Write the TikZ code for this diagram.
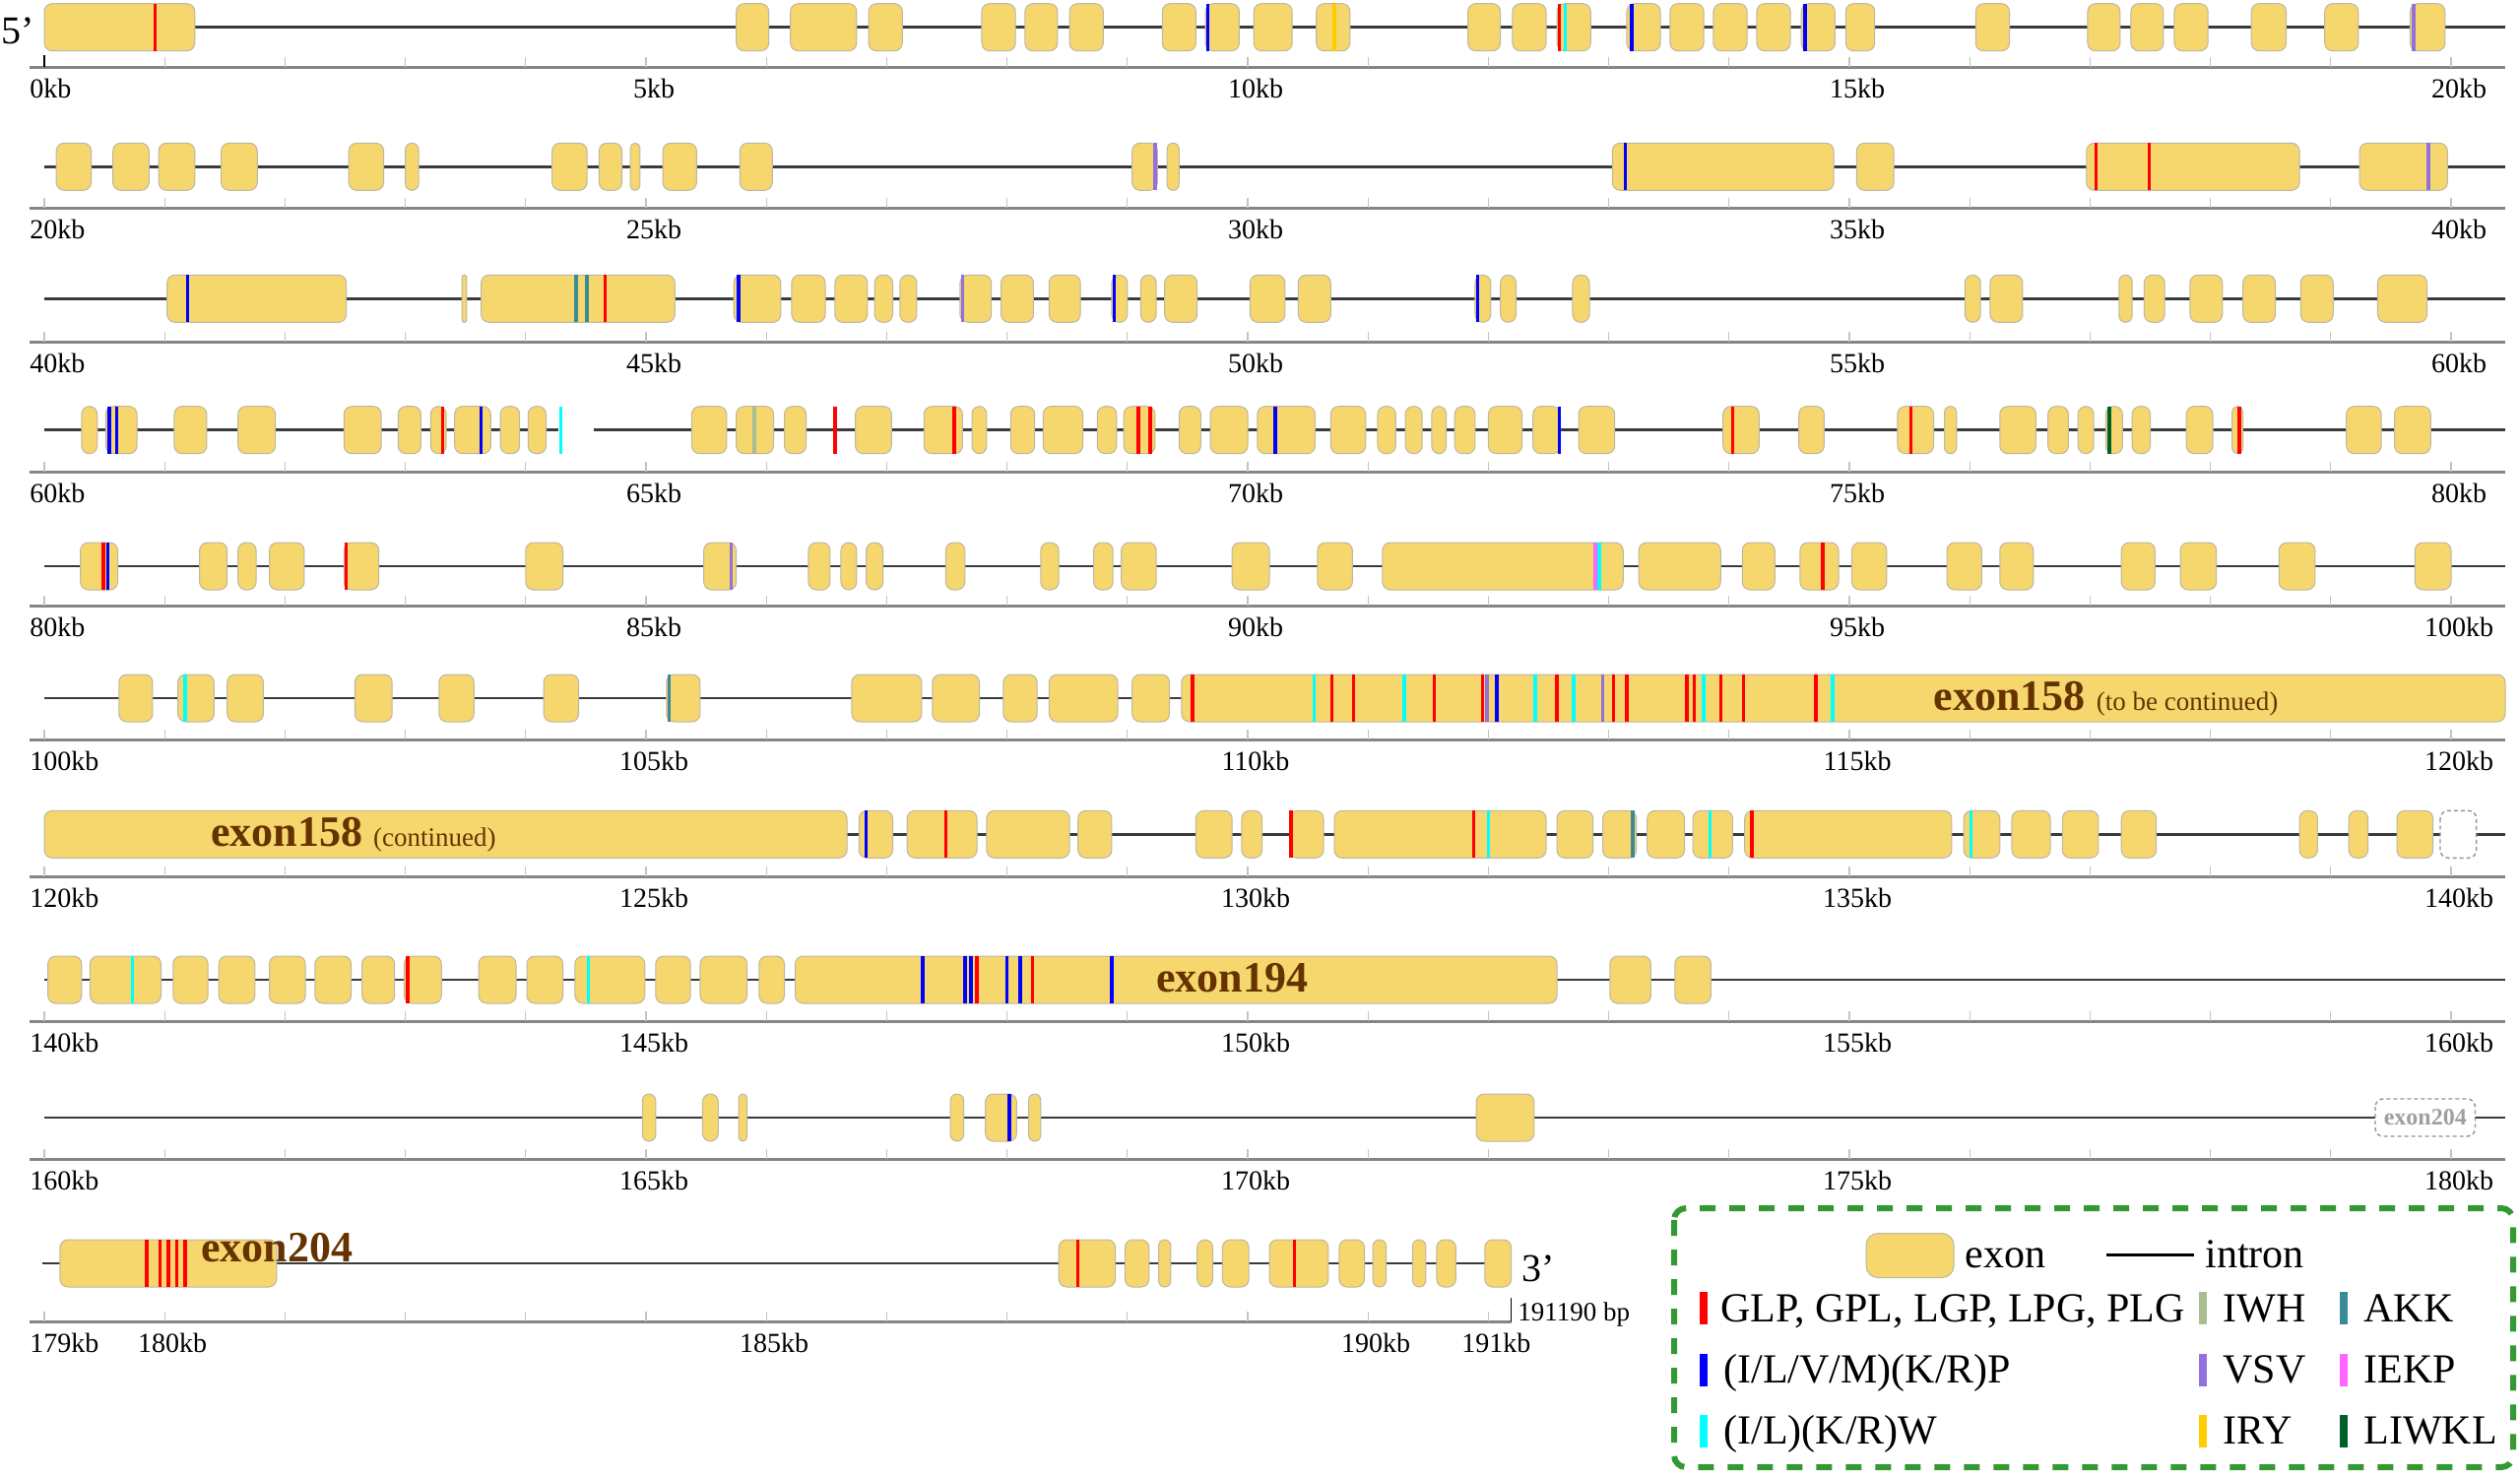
\documentclass[tikz,border=0pt]{standalone}
\usepackage{fontspec}
\setmainfont{Liberation Serif}
\definecolor{exonfill}{HTML}{F5D76E}
\definecolor{exonedge}{HTML}{BDB6A6}
\definecolor{introncol}{HTML}{3A3A3A}
\definecolor{axiscol}{HTML}{858585}
\definecolor{tickcol}{HTML}{C4C4C4}
\definecolor{exonlab}{HTML}{663300}
\definecolor{legcol}{HTML}{339933}
\definecolor{cGLP}{HTML}{FF0000}
\definecolor{cKRP}{HTML}{0000FF}
\definecolor{cKRW}{HTML}{00FFFF}
\definecolor{cIWH}{HTML}{A8BE90}
\definecolor{cAKK}{HTML}{3B8B97}
\definecolor{cVSV}{HTML}{9370DB}
\definecolor{cIEKP}{HTML}{FF66FF}
\definecolor{cIRY}{HTML}{FFCC00}
\definecolor{cLIWKL}{HTML}{00602B}
% exons of one row: #1 = y of the row, #2 = start/end in kb
\newcommand\exons[2]{\foreach \a/\b in {#2}{%
  \pgfmathsetmacro\rr{min(4,30.5*(\b-\a))}%
  \draw[exonbox,rounded corners=\rr pt] ({X(\a)},#1-24) rectangle ({X(\b)},#1+24);}}
\newcommand\motifs[2]{\foreach \m/\c in {#2}
  \draw[motif,\c] ({X(\m)},#1-24) -- ({X(\m)},#1+24);}
% scale bar: #1 = y, #2 = first kb, #3 = name
\newcommand\axisrow[3]{%
  \draw[axisline] ({X(-0.12)},#1) -- ({X(20.45)},#1);
  \foreach \t in {0,...,20} \draw[tickline] ({X(\t)},#1) -- ++(0,-10);
  \node[kblabel,anchor=north west] (#3l0) at (30,#1+12) {#2kb};
  \foreach \t in {5,10,15,20}{\pgfmathtruncatemacro\v{#2+\t}
    \node[kblabel] (#3l\t) at ({X(\t)+8},#1+12) {\v kb};}}
\begin{document}
\begin{tikzpicture}[x=0.5pt,y=-0.5pt,
  declare function={X(\k)=45+122.2*\k;},
  exonbox/.style={fill=exonfill,draw=exonedge,line width=0.5pt},
  gapbox/.style={draw=gray!85,fill=white,dash pattern=on 2pt off 1.5pt,line width=0.7pt,rounded corners=4pt},
  intron/.style={draw=introncol,line width=1.3pt},
  motif/.style={line width=1.7pt},
  axisline/.style={draw=axiscol,line width=1.5pt},
  tickline/.style={draw=tickcol,line width=0.6pt},
  kblabel/.style={font=\fontsize{14}{16}\selectfont,anchor=north,inner sep=0pt},
  exlabel/.style={font=\bfseries\fontsize{22}{26}\selectfont,text=exonlab,inner sep=0pt},
  legtext/.style={font=\fontsize{21}{25}\selectfont,anchor=base west,inner sep=0pt},
  legbar/.style={line width=4.2pt}]
\useasboundingbox[fill=white] (0,0) rectangle (2559,1499);

% 0 - 20 kb
\node[font=\fontsize{20}{24}\selectfont,inner sep=0pt] (five) at (18,31) {5’};
\draw[intron] ({X(0)},27.7) -- ({X(20.45)},27.7);
\exons{27.7}{0/1.25, 5.75/6.02, 6.2/6.75, 6.85/7.13, 7.79/8.07, 8.15/8.42, 8.52/8.8, 9.29/9.57, 9.65/9.93, 10.05/10.37, 10.57/10.85, 11.83/12.1, 12.2/12.48, 12.57/12.85, 13.15/13.43, 13.51/13.79, 13.87/14.15, 14.23/14.51, 14.6/14.88, 14.97/15.21, 16.05/16.33, 16.98/17.25, 17.34/17.61, 17.7/17.98, 18.34/18.63, 18.95/19.23, 19.66/19.95}
\motifs{27.7}{0.92/cGLP, 9.67/cKRP, 10.72/cIRY, 12.59/cGLP, 12.64/cKRW, 13.19/cKRP, 14.63/cKRP, 19.69/cVSV}
\axisrow{68}{0}{r1}
\draw[black,line width=1.2pt] ({X(0)},68) -- ++(0,-12);

% 20 - 40 kb
\draw[intron] ({X(0)},169.3) -- ({X(20.45)},169.3);
\exons{169.3}{0.1/0.39, 0.57/0.87, 0.95/1.25, 1.47/1.77, 2.53/2.82, 3.0/3.11, 4.22/4.51, 4.61/4.8, 4.87/4.95, 5.14/5.42, 5.78/6.05, 9.04/9.25, 9.33/9.43, 13.03/14.87, 15.06/15.37, 16.97/18.74, 19.24/19.97}
\motifs{169.3}{9.23/cVSV, 13.14/cKRP, 17.05/cGLP, 17.49/cGLP, 19.81/cVSV}
\axisrow{211}{20}{r2}

% 40 - 60 kb
\draw[intron] ({X(0)},303.3) -- ({X(20.45)},303.3);
\exons{303.3}{1.02/2.51, 3.47/3.51, 3.63/5.24, 5.73/6.12, 6.21/6.49, 6.57/6.84, 6.9/7.05, 7.11/7.25, 7.61/7.87, 7.95/8.22, 8.35/8.61, 8.87/9.0, 9.11/9.24, 9.31/9.58, 10.02/10.31, 10.42/10.69, 11.89/12.02, 12.1/12.23, 12.7/12.84, 15.96/16.09, 16.17/16.44, 17.24/17.35, 17.45/17.62, 17.83/18.1, 18.27/18.54, 18.75/19.02, 19.39/19.8}
\motifs{303.3}{1.19/cKRP, 4.42/cAKK, 4.51/cAKK, 4.66/cGLP, 5.77/cKRP, 7.63/cVSV, 8.89/cKRP, 11.91/cKRP}
\axisrow{347}{40}{r3}

% 60 - 80 kb
\draw[intron] ({X(0)},436.7) -- ({X(4.27)},436.7);
\draw[intron] ({X(4.57)},436.7) -- ({X(20.45)},436.7);
\exons{436.7}{0.31/0.44, 0.51/0.77, 1.08/1.35, 1.61/1.92, 2.49/2.8, 2.94/3.13, 3.21/3.34, 3.41/3.71, 3.79/3.95, 4.02/4.17, 5.38/5.67, 5.75/6.06, 6.15/6.33, 6.74/7.04, 7.31/7.63, 7.71/7.83, 8.03/8.23, 8.3/8.63, 8.75/8.91, 8.97/9.23, 9.43/9.61, 9.69/10.0, 10.08/10.56, 10.69/10.98, 11.08/11.23, 11.31/11.45, 11.53/11.65, 11.72/11.89, 12.0/12.28, 12.37/12.6, 12.75/13.05, 13.95/14.25, 14.58/14.79, 15.4/15.7, 15.79/15.89, 16.25/16.55, 16.65/16.82, 16.9/17.03, 17.13/17.27, 17.35/17.5, 17.8/18.02, 18.18/18.27, 19.13/19.42, 19.53/19.83}
\motifs{436.7}{0.54/cKRP, 0.6/cKRP, 3.31/cGLP, 3.63/cKRP, 4.29/cKRW, 5.9/cIWH, 6.57/cGLP, 7.56/cGLP, 9.09/cGLP, 9.19/cGLP, 10.23/cKRP, 12.59/cKRP, 14.03/cGLP, 15.51/cGLP, 17.16/cLIWKL, 18.24/cGLP}
\axisrow{479}{60}{r4}

% 80 - 100 kb
\draw[intron] ({X(0)},575) -- ({X(20.45)},575);
\exons{575}{0.3/0.61, 1.29/1.52, 1.61/1.76, 1.87/2.16, 2.49/2.78, 4.0/4.31, 5.48/5.75, 6.35/6.53, 6.62/6.75, 6.83/6.97, 7.49/7.65, 8.28/8.43, 8.72/8.88, 8.95/9.24, 9.87/10.18, 10.58/10.87, 11.12/13.12, 13.25/13.93, 14.11/14.38, 14.59/14.91, 15.02/15.31, 15.81/16.1, 16.25/16.53, 17.26/17.54, 17.75/18.05, 18.57/18.87, 19.7/20.0}
\motifs{575}{0.49/cGLP, 0.53/cKRP, 2.51/cGLP, 5.71/cVSV, 12.89/cIEKP, 12.92/cKRW, 14.78/cGLP}
\axisrow{615}{80}{r5}

% 100 - 120 kb
\draw[intron] ({X(0)},709) -- ({X(20.45)},709);
\exons{709}{0.62/0.9, 1.11/1.41, 1.52/1.82, 2.58/2.89, 3.28/3.57, 4.15/4.44, 5.17/5.45, 6.71/7.29, 7.38/7.77, 7.97/8.25, 8.35/8.92, 9.04/9.35, 9.45/20.45}
\motifs{709}{1.17/cKRW, 5.19/cAKK, 9.54/cGLP, 10.55/cKRW, 10.7/cGLP, 10.88/cGLP, 11.3/cKRW, 11.55/cGLP, 11.95/cGLP, 11.99/cVSV, 12.07/cKRP, 12.39/cKRW, 12.57/cGLP, 12.71/cKRW, 12.95/cVSV, 13.04/cGLP, 13.15/cGLP, 13.65/cGLP, 13.71/cGLP, 13.79/cKRW, 13.93/cGLP, 14.12/cGLP, 14.72/cGLP, 14.86/cKRW}
\node[exlabel,anchor=base west] (ex158a) at ({X(15.7)},721) {exon158 {\mdseries\fontsize{13.5}{16}\selectfont(to be continued)}};
\axisrow{751}{100}{r6}

% 120 - 140 kb
\draw[intron] ({X(0)},847.3) -- ({X(20.45)},847.3);
\exons{847.3}{0/6.67, 6.77/7.05, 7.17/7.75, 7.83/8.52, 8.59/8.87, 9.57/9.87, 9.95/10.12, 10.35/10.63, 10.72/12.48, 12.57/12.87, 12.95/13.23, 13.32/13.63, 13.7/14.03, 14.13/15.85, 15.95/16.25, 16.35/16.67, 16.77/17.07, 17.26/17.55, 18.74/18.89, 19.15/19.31, 19.55/19.85}
\draw[gapbox] ({X(19.91)},823.3) rectangle ({X(20.21)},871.3);
\motifs{847.3}{6.83/cKRP, 7.49/cGLP, 10.36/cGLP, 11.88/cGLP, 12.0/cKRW, 13.2/cAKK, 13.84/cKRW, 14.19/cGLP, 16.01/cKRW}
\node[exlabel,anchor=base west] (ex158b) at ({X(1.38)},859) {exon158 {\mdseries\fontsize{13.5}{16}\selectfont(continued)}};
\axisrow{890}{120}{r7}

% 140 - 160 kb
\draw[intron] ({X(0)},995) -- ({X(20.45)},995);
\exons{995}{0.03/0.31, 0.38/0.97, 1.07/1.36, 1.45/1.75, 1.87/2.17, 2.25/2.55, 2.64/2.91, 2.99/3.3, 3.61/3.92, 4.01/4.31, 4.41/4.99, 5.08/5.37, 5.45/5.84, 5.94/6.15, 6.24/12.57, 13.01/13.35, 13.55/13.85}
\motifs{995}{0.73/cKRW, 3.02/cGLP, 4.52/cKRW, 7.3/cKRP, 7.65/cKRP, 7.7/cKRP, 7.75/cGLP, 8.0/cKRP, 8.11/cKRP, 8.21/cGLP, 8.87/cKRP}
\node[exlabel,anchor=base] (ex194) at ({X(9.87)},1007) {exon194};
\axisrow{1037}{140}{r8}

% 160 - 180 kb
\draw[intron] ({X(0)},1135) -- ({X(20.45)},1135);
\exons{1135}{4.97/5.08, 5.47/5.6, 5.77/5.84, 7.53/7.64, 7.82/8.08, 8.18/8.28, 11.9/12.38}
\motifs{1135}{8.02/cKRP}
\draw[gapbox] ({X(19.37)},1116) rectangle ({X(20.2)},1154);
\node[font=\bfseries\fontsize{12}{14}\selectfont,text=gray!75,inner sep=0pt] (ex204a) at ({X(19.785)},1135) {exon204};
\axisrow{1177}{160}{r9}

% 179 - 191.19 kb
\draw[intron] ({X(-0.02)},1283) -- ({X(12.19)},1283);
\exons{1283}{0.13/1.93, 8.43/8.9, 8.98/9.18, 9.26/9.36, 9.58/9.71, 9.79/10.01, 10.18/10.67, 10.76/10.97, 11.04/11.15, 11.37/11.48, 11.57/11.73, 11.97/12.19}
\motifs{1283}{0.85/cGLP, 0.96/cGLP, 1.03/cGLP, 1.1/cGLP, 1.17/cGLP, 8.59/cGLP, 10.39/cGLP}
\node[exlabel,anchor=base west] (ex204b) at ({X(1.3)},1281) {exon204};
\node[font=\fontsize{20}{24}\selectfont,inner sep=0pt] (three) at (1562,1288) {3’};
\draw[axisline] ({X(-0.12)},1342) -- ({X(12.19)},1342);
\foreach \t in {0,...,12} \draw[tickline] ({X(\t)},1342) -- ++(0,-10);
\draw[black,line width=0.8pt] ({X(12.19)},1342) -- ++(0,-24);
\node[kblabel,anchor=north west] (r10l0) at (30,1354) {179kb};
\foreach \t/\v in {1/180,6/185,11/190,12/191}
  \node[kblabel] (r10l\t) at ({X(\t)+8},1354) {\v kb};
\node[font=\fontsize{13.5}{16}\selectfont,anchor=base west,inner sep=0pt] (bp) at (1541,1341) {191190 bp};

% legend
\draw[legcol,line width=3pt,dash pattern=on 8pt off 7pt,rounded corners=6pt] (1700,1227) rectangle (2552,1490);
\node[exonbox,rounded corners=6pt,minimum width=44.5pt,minimum height=22.5pt,inner sep=0pt] (legexon) at (1939.5,1275) {};
\node[legtext] (legexont) at (1995,1287) {exon};
\coordinate (legi1) at (2139,1274);
\coordinate (legi2) at (2228,1274);
\draw[black,line width=1.5pt] (legi1) -- (legi2);
\node[legtext] (legintront) at (2239,1287) {intron};
\foreach \x/\y/\c in {1730/1312/cGLP, 1730/1375/cKRP, 1730/1437/cKRW, 2237/1312/cIWH, 2237/1375/cVSV, 2237/1437/cIRY, 2380/1312/cAKK, 2380/1375/cIEKP, 2380/1437/cLIWKL}
  \draw[legbar,\c] (\x,\y) -- (\x,\y+33);
\node[legtext] (legGLP) at (1747,1342) {GLP, GPL, LGP, LPG, PLG};
\node[legtext] (legKRP) at (1750,1404) {(I/L/V/M)(K/R)P};
\node[legtext] (legKRW) at (1750,1466) {(I/L)(K/R)W};
\node[legtext] (legIWH) at (2257,1342) {IWH};
\node[legtext] (legVSV) at (2257,1404) {VSV};
\node[legtext] (legIRY) at (2257,1466) {IRY};
\node[legtext] (legAKK) at (2400,1342) {AKK};
\node[legtext] (legIEKP) at (2400,1404) {IEKP};
\node[legtext] (legLIWKL) at (2400,1466) {LIWKL};
\end{tikzpicture}
\end{document}
